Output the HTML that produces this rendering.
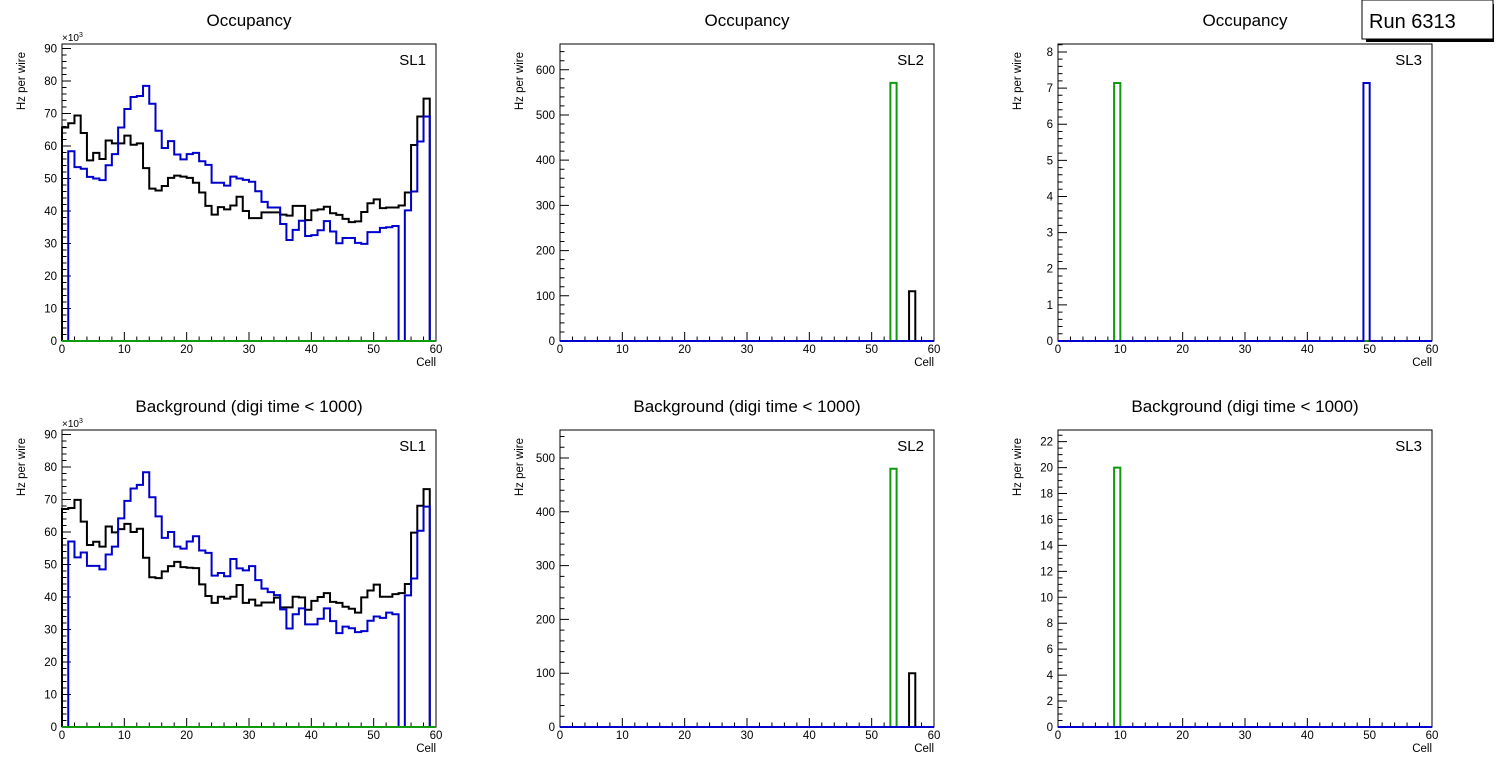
<!DOCTYPE html>
<html><head><meta charset="utf-8"><style>
html,body{margin:0;padding:0;background:#fff}
svg{display:block;font-family:"Liberation Sans",sans-serif}
</style></head><body>
<svg id="c" width="1496" height="772" viewBox="0 0 1496 772"></svg>
<script>
const cells = Array.from({length:60},(_,i)=>i);
const occSL1Black = [65.7,67,69.4,64,55.6,57.9,56,61.7,60.8,60.8,63.2,60.4,60.8,53.2,46.9,46.3,47.7,50.2,50.9,50.6,50.2,48.7,45.7,41.6,38.9,41.2,40.5,41.7,44.4,40,37.8,37.8,39.6,39.6,39.6,38.9,38.6,41.6,41.6,37.2,40.2,40.5,41.3,39.3,38.8,37.6,36.6,36.8,39.7,42.4,43.6,40.9,41.1,41.1,41.7,45.7,60.3,69.1,74.6,0];
const occSL1Blue = [0,58.4,53.5,53,50.5,50,49.5,54.1,57.5,65.7,71.4,75.1,75.4,78.5,73,64.7,59.4,61.5,57.4,55.9,57.5,57.9,55.3,54.2,48.7,48.7,47.8,50.6,50,49.6,49,46.1,42.8,41.1,41.1,36,31.1,34.2,37,32.3,32.6,34.1,36.9,33.7,30.1,31.7,31.7,30.2,29.9,33.5,33.5,34.8,35,35.4,0,40.2,46,61.4,69.1,0];
const bkgSL1Black = [67.1,67.4,69.9,63.2,56,57,55.5,61.7,59.9,60.9,62.5,60,61,52.1,46.1,45.8,47.9,49.5,50.8,49.2,49,48.9,43.9,40.3,38.2,40.1,39.5,40.1,43.7,38.2,39.2,37.4,38.3,38.3,39.8,36.8,36.8,40.1,39.9,36.1,38.8,40,41.2,38.5,38.2,37,36.4,35.2,39.9,42,43.8,40.1,40.1,40.9,41.2,44,59.8,68.1,73.2,0];
const bkgSL1Blue = [0,57.1,52.2,53.7,49.6,49.6,48.5,53.1,55.5,64.2,69.6,73.4,74.5,78.4,70.7,64.8,58.2,60,55.5,54.9,57.1,58.7,54.3,53.6,46.6,47.4,46.4,51.7,48.8,48.2,49.5,45.2,42.6,41.5,40.6,36.2,30.3,34.7,36.5,31.6,31.6,33.3,36.5,32.6,28.9,30.9,30.4,29.2,29.5,32.7,34,33.6,35.2,34.7,0,40.5,45.7,60.4,67.8,0];
const zeros = new Array(60).fill(0);
function spike(bin,val){const a=new Array(60).fill(0);a[bin]=val;return a;}
const occSL2Green = spike(53,571), occSL2Black = spike(56,110);
const occSL3Green = spike(9,7.14), occSL3Blue = spike(49,7.14);
const bkgSL2Green = spike(53,480), bkgSL2Black = spike(56,100);
const bkgSL3Green = spike(9,20);
const xTicks = [0,10,20,30,40,50,60];

const svg = document.getElementById('c');
const NS = 'http://www.w3.org/2000/svg';
function mk(tag, attrs, parent){const e=document.createElementNS(NS,tag);for(const k in attrs)e.setAttribute(k,attrs[k]);(parent||svg).appendChild(e);return e;}
const BLACK='#000', BLUE='#0000cc', GREEN='#109a10';

function panel(name, x0, y0, title, sl, ymax, major, minorN, labelScale, series){
  const W=374,H=297;
  const g = mk('g',{});
  
  
  const X = c => x0 + c/60*W;
  const Y = v => y0 + H - v/ymax*H;
  const t = mk('text',{x:x0+W/2, y:y0-18, 'text-anchor':'middle','font-size':17},g);
  t.textContent = title;
  
  
  const fr = mk('rect',{x:x0,y:y0,width:W,height:H,fill:'none',stroke:'#000','stroke-width':1},g);
  
  
  let d='';
  const step = major/minorN;
  for(let k=0; k*step<=ymax+1e-9; k++){
    const v=k*step, y=Y(v), isMaj = k%minorN===0;
    d+=`M${x0} ${y}h${isMaj?9:4.5}`;
    if(isMaj){
      const lt=mk('text',{x:x0-5,y:y+4,'text-anchor':'end','font-size':11.5},g);
      lt.textContent = String(Math.round(v/labelScale*100)/100);
      
      
    }
  }
  for(let c=0;c<=60;c+=2){
    const isMaj=c%10===0;
    d+=`M${X(c)} ${y0+H}v${isMaj?-9:-4.5}`;
  }
  mk('path',{d,stroke:'#000','stroke-width':1,fill:'none'},g);
  xTicks.forEach(c=>{
    const lt=mk('text',{x:X(c),y:y0+H+12,'text-anchor':'middle','font-size':11.5},g);
    lt.textContent=c;
    
    
  });
  const xl=mk('text',{x:x0+W,y:y0+H+25,'text-anchor':'end','font-size':11.5},g);
  xl.textContent='Cell';
  
  
  const yl=mk('text',{x:0,y:0,'text-anchor':'end','font-size':11.5,transform:`translate(${x0-37},${y0+8}) rotate(-90)`},g);
  yl.textContent='Hz per wire';
  
  
  if(labelScale!==1){
    const ex=mk('text',{x:x0,y:y0-3,'font-size':10},g);
    ex.innerHTML='×10<tspan dy="-4" font-size="7">3</tspan>';
    
    
  }
  const sll=mk('text',{x:x0+W-10,y:y0+21,'text-anchor':'end','font-size':15},g);
  sll.textContent=sl;
  
  
  series.forEach(s=>{
    let p=`M${X(0)} ${Y(0)}`;
    s.vals.forEach((v,i)=>{p+=`V${Y(v)}H${X(i+1)}`;});
    p+=`V${Y(0)}`;
    const path=mk('path',{d:p,fill:'none',stroke:s.color,'stroke-width':2,'stroke-linejoin':'miter'},g);
    
    
  });
}
panel('occupancy-sl1',62,44,'Occupancy','SL1',91400,10000,5,1000,[
  {name:'series-black',vals:occSL1Black.map(v=>v*1000),color:BLACK},
  {name:'series-blue',vals:occSL1Blue.map(v=>v*1000),color:BLUE},
  {name:'series-green',vals:zeros,color:GREEN}]);
panel('occupancy-sl2',560,44,'Occupancy','SL2',657,100,5,1,[
  {name:'series-black',vals:occSL2Black,color:BLACK},
  {name:'series-green',vals:occSL2Green,color:GREEN},
  {name:'series-blue',vals:zeros,color:BLUE}]);
panel('occupancy-sl3',1058,44,'Occupancy','SL3',8.22,1,5,1,[
  {name:'series-black',vals:zeros,color:BLACK},
  {name:'series-green',vals:occSL3Green,color:GREEN},
  {name:'series-blue',vals:occSL3Blue,color:BLUE}]);
panel('background-sl1',62,430,'Background (digi time < 1000)','SL1',91400,10000,5,1000,[
  {name:'series-black',vals:bkgSL1Black.map(v=>v*1000),color:BLACK},
  {name:'series-blue',vals:bkgSL1Blue.map(v=>v*1000),color:BLUE},
  {name:'series-green',vals:zeros,color:GREEN}]);
panel('background-sl2',560,430,'Background (digi time < 1000)','SL2',552,100,5,1,[
  {name:'series-black',vals:bkgSL2Black,color:BLACK},
  {name:'series-green',vals:bkgSL2Green,color:GREEN},
  {name:'series-blue',vals:zeros,color:BLUE}]);
panel('background-sl3',1058,430,'Background (digi time < 1000)','SL3',22.9,2,4,1,[
  {name:'series-black',vals:zeros,color:BLACK},
  {name:'series-green',vals:bkgSL3Green,color:GREEN},
  {name:'series-blue',vals:zeros,color:BLUE}]);
const rb=mk('g',{});


mk('rect',{x:1366,y:4,width:128,height:38,fill:'#000'},rb);
mk('rect',{x:1362,y:0,width:131,height:39,fill:'#fff',stroke:'#000','stroke-width':1},rb);
const rt=mk('text',{x:1369,y:28,'font-size':20},rb);
rt.textContent='Run 6313';


</script>
</body></html>
